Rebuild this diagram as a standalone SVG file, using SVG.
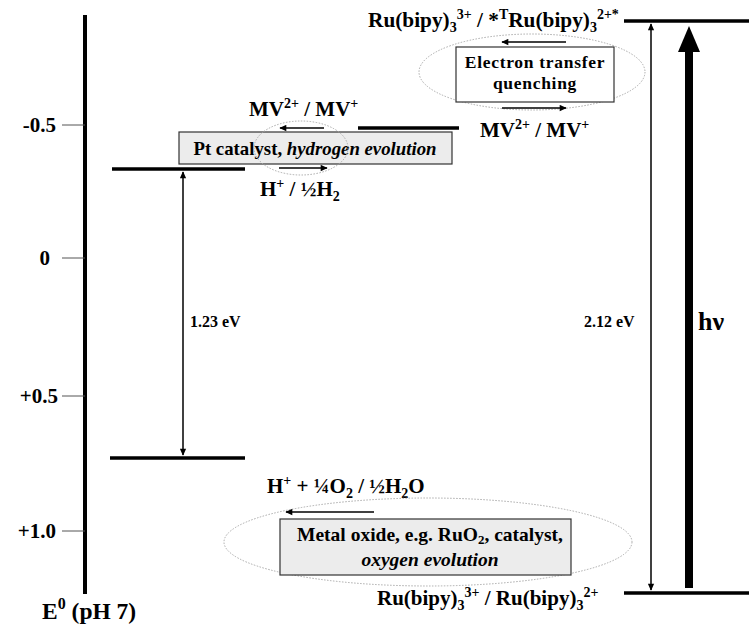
<svg xmlns="http://www.w3.org/2000/svg" width="749" height="625" viewBox="0 0 749 625">
<style>
.t{font-family:"Liberation Serif","Tinos","Times New Roman","DejaVu Serif",serif;font-weight:bold;fill:#000}
.lvl{stroke:#000;stroke-width:3.5;fill:none}
.tick{stroke:#555;stroke-width:1}
.arr{stroke:#000;stroke-width:1.5;fill:none;marker-end:url(#ah)}
.dbl{stroke:#000;stroke-width:1.5;fill:none;marker-start:url(#ah);marker-end:url(#ah)}
.oval{fill:none;stroke:#aaa;stroke-width:1;stroke-dasharray:1.5 1.5}
.box{stroke:#333;stroke-width:1.2}
</style>
<defs>
<marker id="ah" viewBox="0 0 10 10" refX="9" refY="5" markerWidth="8" markerHeight="7" markerUnits="userSpaceOnUse" orient="auto-start-reverse"><path d="M0,0.5 L10,5 L0,9.5 z" fill="#000"/></marker>
<marker id="big" viewBox="0 0 26 22" refX="1" refY="11" markerWidth="26" markerHeight="22" markerUnits="userSpaceOnUse" orient="auto"><path d="M0,0 L26,11 L0,22 z" fill="#000"/></marker>
</defs>

<g id="axis">
<line x1="85" y1="15" x2="85" y2="594" stroke="#000" stroke-width="4"/>
<line class="tick" x1="62" y1="125" x2="85" y2="125"/>
<line class="tick" x1="62" y1="258" x2="85" y2="258"/>
<line class="tick" x1="62" y1="396" x2="85" y2="396"/>
<line class="tick" x1="62" y1="531" x2="85" y2="531"/>
<text class="t" x="56" y="132" font-size="21" text-anchor="end">-0.5</text>
<text class="t" x="50" y="265" font-size="21" text-anchor="end">0</text>
<text class="t" x="58" y="403" font-size="21" text-anchor="end">+0.5</text>
<text class="t" x="56" y="538" font-size="21" text-anchor="end">+1.0</text>
<text class="t" x="42" y="619" font-size="23.5">E<tspan font-size="16" dy="-10">0</tspan><tspan dy="10"> (pH 7)</tspan></text>
</g>

<g id="level-h2">
<line class="lvl" x1="112" y1="169" x2="245" y2="169"/>
<text class="t" x="260" y="196" font-size="21">H<tspan font-size="14" dy="-8">+</tspan><tspan dy="8"> / ½H</tspan><tspan font-size="14" dy="5">2</tspan></text>
</g>

<g id="level-o2">
<line class="lvl" x1="110" y1="458" x2="245" y2="458"/>
<text class="t" x="267" y="493" font-size="21">H<tspan font-size="14" dy="-8">+</tspan><tspan dy="8"> + ¼O</tspan><tspan font-size="14" dy="5">2</tspan><tspan dy="-5"> / ½H</tspan><tspan font-size="14" dy="5">2</tspan><tspan dy="-5">O</tspan></text>
</g>

<g id="level-mv">
<line class="lvl" x1="358" y1="128" x2="459" y2="128"/>
<text class="t" x="249" y="116" font-size="21">MV<tspan font-size="14" dy="-8">2+</tspan><tspan dy="8"> / MV</tspan><tspan font-size="14" dy="-8">+</tspan></text>
<text class="t" x="480" y="137" font-size="21">MV<tspan font-size="14" dy="-8">2+</tspan><tspan dy="8"> / MV</tspan><tspan font-size="14" dy="-8">+</tspan></text>
</g>

<g id="level-ru-excited">
<line class="lvl" x1="624" y1="21" x2="749" y2="21"/>
<text class="t" x="368" y="27" font-size="21.3">Ru(bipy)<tspan font-size="14" dy="5">3</tspan><tspan font-size="14" dy="-13">3+</tspan><tspan dy="8"> / *</tspan><tspan font-size="14" dy="-8">T</tspan><tspan dy="8">Ru(bipy)</tspan><tspan font-size="14" dy="5">3</tspan><tspan font-size="14" dy="-13">2+*</tspan></text>
</g>

<g id="level-ru-ground">
<line class="lvl" x1="624" y1="593" x2="749" y2="593"/>
<text class="t" x="377" y="605" font-size="21">Ru(bipy)<tspan font-size="14" dy="5">3</tspan><tspan font-size="14" dy="-13">3+</tspan><tspan dy="8"> / Ru(bipy)</tspan><tspan font-size="14" dy="5">3</tspan><tspan font-size="14" dy="-13">2+</tspan></text>
</g>

<g id="quenching">
<ellipse class="oval" cx="532" cy="72" rx="113" ry="38"/>
<rect class="box" x="456" y="47" width="158" height="55" fill="#fff"/>
<text class="t" x="535" y="68" font-size="17.5" text-anchor="middle" letter-spacing="0.7">Electron transfer</text>
<text class="t" x="535" y="89" font-size="17.5" text-anchor="middle" letter-spacing="0.7">quenching</text>
</g>

<g id="pt-catalyst">
<rect class="box" x="179" y="132" width="273" height="32" fill="#ececec"/>
<text class="t" x="315" y="155" font-size="18.8" text-anchor="middle">Pt catalyst, <tspan font-style="italic">hydrogen evolution</tspan></text>
<ellipse class="oval" cx="301" cy="148" rx="47" ry="27"/>
</g>

<g id="metal-oxide">
<ellipse class="oval" cx="428" cy="542" rx="204" ry="44"/>
<rect class="box" x="280" y="519" width="291" height="56" fill="#ececec"/>
<text class="t" x="430" y="541" font-size="19.5" text-anchor="middle">Metal oxide, e.g. RuO<tspan font-size="13" dy="3">2</tspan><tspan dy="-3">, catalyst,</tspan></text>
<text class="t" x="430" y="566" font-size="19.5" text-anchor="middle" font-style="italic">oxygen evolution</text>
</g>

<g id="connectors">
<line class="dbl" x1="183" y1="172" x2="183" y2="455"/>
<line class="dbl" x1="651" y1="24" x2="651" y2="590"/>
<line x1="689" y1="588" x2="689" y2="51" stroke="#000" stroke-width="8" marker-end="url(#big)"/>
<line class="arr" x1="566" y1="42" x2="502" y2="42"/>
<line class="arr" x1="502" y1="108" x2="566" y2="108"/>
<line class="arr" x1="324" y1="128" x2="280" y2="128"/>
<line class="arr" x1="279" y1="168" x2="327" y2="168"/>
<line class="arr" x1="374" y1="512" x2="286" y2="512"/>
</g>

<g id="labels">
<text class="t" x="190" y="327" font-size="16">1.23 eV</text>
<text class="t" x="584" y="327" font-size="16">2.12 eV</text>
<text class="t" x="698" y="330" font-size="26">hν</text>
</g>
</svg>
